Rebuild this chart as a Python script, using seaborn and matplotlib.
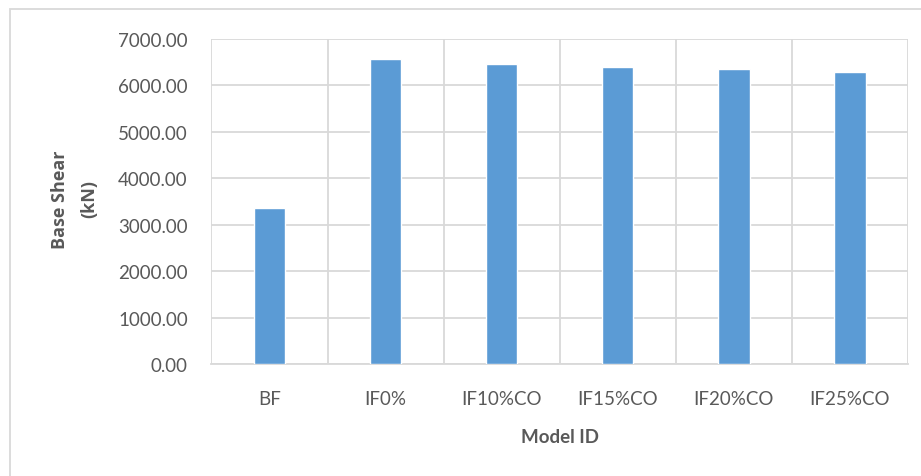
import matplotlib
matplotlib.use("Agg")
import matplotlib.pyplot as plt
import matplotlib.transforms as mtransforms
import seaborn as sns
import pandas as pd
import numpy as np
from matplotlib.patches import Rectangle

# Base shear results per model
models = ["BF", "IF0%", "IF10%CO", "IF15%CO", "IF20%CO", "IF25%CO"]
base_shear = [3360, 6570, 6460, 6400, 6350, 6300]
y_ticks = [0, 1000, 2000, 3000, 4000, 5000, 6000, 7000]

sns.set_theme(style="white")
plt.rcParams["font.family"] = ["Lato", "DejaVu Sans"]

text_color = "#595959"
grid_color = "#D9D9D9"
bar_color = "#5B9BD5"

df = pd.DataFrame({"Model ID": models, "Base Shear": base_shear})

fig = plt.figure(figsize=(9.21, 4.77), dpi=100)
ax = fig.add_axes([0.2296, 0.2348, 0.9859 - 0.2296, 0.9161 - 0.2348])

sns.barplot(data=df, x="Model ID", y="Base Shear", color=bar_color,
            width=0.27, saturation=1, ax=ax, zorder=3)

ax.set_ylim(0, 7000)
ax.set_xlim(-0.5, len(models) - 0.5)
ax.set_yticks(y_ticks)
ax.set_yticklabels([f"{v:.2f}" for v in y_ticks])

# category boundary gridlines
ax.set_xticks(np.arange(-0.5, len(models), 1.0), minor=True)
ax.grid(axis="y", which="major", color=grid_color, linewidth=1.3, zorder=0)
ax.grid(axis="x", which="minor", color=grid_color, linewidth=1.3, zorder=0)
ax.grid(axis="x", which="major", visible=False)

for side in ["top", "right", "left"]:
    ax.spines[side].set_visible(False)
ax.spines["bottom"].set_color(grid_color)
ax.spines["bottom"].set_linewidth(1.3)

ax.tick_params(axis="both", which="both", length=0, colors=text_color, labelsize=13.5)
ax.tick_params(axis="y", pad=17)
ax.tick_params(axis="x", pad=19)

ax.set_xlabel("Model ID", fontsize=13.5, fontweight="bold", color=text_color, labelpad=15)

# two-line y-axis title, each line centred on the axis
ylab_font = dict(fontsize=13, fontweight="bold", color=text_color,
                 family=["Open Sans", "DejaVu Sans"])
trans = mtransforms.blended_transform_factory(fig.transFigure, ax.transAxes)
ax.text(60 / 921, 0.51, "Base Shear", rotation=90, ha="center", va="center",
        transform=trans, **ylab_font)
ax.text(89 / 921, 0.51, "(kN)", rotation=90, ha="center", va="center",
        transform=trans, **ylab_font)
ax.set_ylabel("")

# chart frame
fig.patches.append(Rectangle((10 / 921, -0.1), 1.2, 1 - 10 / 477 + 0.1,
                             transform=fig.transFigure, fill=False,
                             edgecolor=grid_color, linewidth=1.3))

fig.savefig("out.png", dpi=100)
